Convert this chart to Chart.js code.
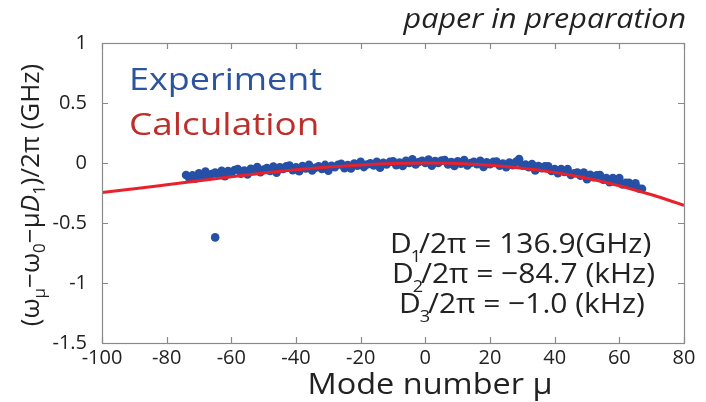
<!DOCTYPE html>
<html><head><meta charset="utf-8">
<script src="https://cdn.jsdelivr.net/npm/chart.js@4.4.1/dist/chart.umd.min.js"></script>
<style>html,body{margin:0;padding:0;background:#fff}#wrap{width:706px;height:402px}</style>
</head><body><div id="wrap"><canvas id="c" width="706" height="402"></canvas></div>
<script>
// ---- data ----
const expMu = [
 -74,-73,-72,-71,-70,-69,-68,-67,-66,-65,
 -64,-63,-62,-61,-60,-59,-58,-57,-56,-55,
 -54,-53,-52,-51,-50,-49,-48,-47,-46,-45,
 -44,-43,-42,-41,-40,-39,-38,-37,-36,-35,
 -34,-33,-32,-31,-30,-29,-28,-27,-26,-25,
 -24,-23,-22,-21,-20,-19,-18,-17,-16,-15,
 -14,-13,-12,-11,-10,-9,-8,-7,-6,-5,
 -4,-3,-2,-1,0,1,2,3,4,5,
 6,7,8,9,10,11,12,13,14,15,
 16,17,18,19,20,21,22,23,24,25,
 26,27,28,29,30,31,32,33,34,35,
 36,37,38,39,40,41,42,43,44,45,
 46,47,48,49,50,51,52,53,54,55,
 56,57,58,59,60,61,62,63,64,65,
 66,67,-65];
const expVal = [
 -0.100,-0.126,-0.102,-0.129,-0.085,-0.108,-0.071,-0.114,-0.092,-0.080,
 -0.097,-0.064,-0.111,-0.068,-0.085,-0.058,-0.051,-0.089,-0.062,-0.095,
 -0.048,-0.066,-0.034,-0.077,-0.055,-0.043,-0.066,-0.029,-0.080,-0.035,
 -0.049,-0.028,-0.022,-0.060,-0.035,-0.068,-0.025,-0.045,-0.015,-0.062,
 -0.039,-0.028,-0.050,-0.016,-0.065,-0.023,-0.036,-0.014,-0.007,-0.043,
 -0.018,-0.046,-0.004,-0.022,0.010,-0.034,-0.013,-0.002,-0.021,0.010,
 -0.039,0.002,-0.012,0.009,0.015,-0.018,0.004,-0.024,0.018,0.000,
 0.031,-0.013,0.008,0.019,0.000,0.029,-0.022,0.017,0.001,0.020,
 0.024,-0.012,0.007,-0.024,0.015,-0.005,0.025,-0.020,0.000,0.010,
 -0.011,0.018,-0.033,0.006,-0.010,0.009,0.013,-0.023,-0.004,-0.035,
 0.003,-0.019,0.009,0.032,-0.020,-0.013,-0.036,-0.009,-0.062,-0.025,
 -0.044,-0.028,-0.027,-0.066,-0.050,-0.085,-0.050,-0.075,-0.050,-0.100,
 -0.085,-0.080,-0.105,-0.080,-0.135,-0.099,-0.118,-0.102,-0.101,-0.140,
 -0.125,-0.160,-0.125,-0.150,-0.125,-0.178,-0.166,-0.164,-0.192,-0.170,
 -0.212,-0.215,-0.620];
const calcMu = [-100,-90,-80,-70,-60,-50,-40,-30,-20,-10,0,10,20,30,40,50,60,70,80];
const calcVal = [-0.245,-0.215,-0.182,-0.148,-0.115,-0.084,-0.057,-0.034,-0.016,-0.004,0,-0.004,-0.018,-0.043,-0.078,-0.127,-0.189,-0.265,-0.352];
const xTicks = [-100,-80,-60,-40,-20,0,20,40,60,80];
const yTicks = [-1.5,-1,-0.5,0,0.5,1];
const legendLabels = ['Experiment','Calculation'];
const xTitle = 'Mode number \u03bc';
const noteText = 'paper in preparation';
const paramLines = [['1','= 136.9(GHz)'],['2','= \u221284.7 (kHz)'],['3','= \u22121.0 (kHz)']];

const FONT = '"Open Sans", "Noto Sans", sans-serif';
const BLUE = '#2550a6', RED = '#e8212b';

function wideText(ctx, text, x, y, sx){
  ctx.save(); ctx.translate(x, y); ctx.scale(sx, 1); ctx.fillText(text, 0, 0); ctx.restore();
}

const framePlugin = {
  id:'frame',
  afterDraw(chart){
    const ctx = chart.ctx, a = chart.chartArea, xs = chart.scales.x, ys = chart.scales.y;
    ctx.save();
    ctx.strokeStyle = '#8a8a8a'; ctx.lineWidth = 1.2;
    ctx.strokeRect(a.left+0.5, a.top+0.5, a.right-a.left, a.bottom-a.top);
    const L = 6;
    ctx.beginPath();
    xTicks.forEach(v=>{const p=Math.round(xs.getPixelForValue(v))+0.5;
      ctx.moveTo(p,a.bottom); ctx.lineTo(p,a.bottom-L);
      ctx.moveTo(p,a.top); ctx.lineTo(p,a.top+L);});
    yTicks.forEach(v=>{const p=Math.round(ys.getPixelForValue(v))+0.5;
      ctx.moveTo(a.left,p); ctx.lineTo(a.left+L,p);
      ctx.moveTo(a.right,p); ctx.lineTo(a.right-L,p);});
    ctx.stroke();

    // y axis title with subscripts
    const parts = [
      ['(\u03c9',0,''],['\u03bc',1,''],['\u2212\u03c9',0,''],['0',1,''],['\u2212\u03bc',0,''],['D',0,'italic '],['1',1,''],[')/2\u03c0 (GHz)',0,'']
    ];
    const big = 26, small = 17;
    let total = 0;
    parts.forEach(p=>{ctx.font = p[2]+(p[1]?small:big)+'px '+FONT; p.w = ctx.measureText(p[0]).width; total += p.w;});
    ctx.translate(32, 195);
    ctx.rotate(-Math.PI/2);
    ctx.fillStyle = '#222'; ctx.textBaseline = 'middle'; ctx.textAlign='left';
    let x = -total/2;
    parts.forEach(p=>{ctx.font = p[2]+(p[1]?small:big)+'px '+FONT; ctx.fillText(p[0], x, p[1]?8:0); x += p.w;});
    ctx.restore();

    ctx.save();
    ctx.textBaseline='alphabetic'; ctx.textAlign='left';
    // x title
    ctx.fillStyle = '#222';
    ctx.font = '29px '+FONT;
    const tw = ctx.measureText(xTitle).width*1.12;
    wideText(ctx, xTitle, 430 - tw/2, 394, 1.12);

    // legend text
    ctx.font = '31px '+FONT;
    ctx.fillStyle = '#2b539e'; wideText(ctx, legendLabels[0], 129, 90, 1.16);
    ctx.fillStyle = '#bd2f2a'; wideText(ctx, legendLabels[1], 129, 135, 1.19);

    // parameter annotations
    ctx.fillStyle = '#222';
    const px = [390, 392, 399], py = [253, 283, 313], sx = 1.07;
    paramLines.forEach((l,i)=>{
      ctx.save(); ctx.translate(px[i], py[i]); ctx.scale(sx,1);
      let x = 0;
      ctx.font = '28px '+FONT; ctx.fillText('D', x, 0); x += ctx.measureText('D').width;
      ctx.font = '17px '+FONT; ctx.fillText(l[0], x-1, 9); x += ctx.measureText(l[0]).width-3;
      ctx.font = '28px '+FONT; ctx.fillText('/2\u03c0 '+l[1], x, 0);
      ctx.restore();
    });
    // top note
    ctx.font = 'italic 27px '+FONT;
    const nw = ctx.measureText(noteText).width*1.13;
    wideText(ctx, noteText, 686 - nw, 28, 1.13);
    ctx.restore();
  }
};

new Chart(document.getElementById('c'), {
  type:'scatter',
  data:{datasets:[
    {label:legendLabels[1], data:calcMu.map((m,i)=>({x:m,y:calcVal[i]})), showLine:true, borderColor:RED, borderWidth:3, pointRadius:0, cubicInterpolationMode:'monotone', order:0},
    {label:legendLabels[0], data:expMu.map((m,i)=>({x:m,y:expVal[i]})), backgroundColor:BLUE, borderColor:BLUE, pointRadius:4.3, borderWidth:0, order:1}
  ]},
  options:{
    responsive:false, animation:false, devicePixelRatio:1,
    layout:{padding:{top:43,right:22,left:0,bottom:0}},
    plugins:{legend:{display:false}, tooltip:{enabled:false}},
    scales:{
      x:{type:'linear', min:-100, max:80,
        afterBuildTicks(s){s.ticks = xTicks.map(v=>({value:v}));},
        afterFit(s){s.height = 59;},
        grid:{display:false, drawTicks:false}, border:{display:false},
        ticks:{font:{family:FONT,size:20}, color:'#222', padding:3, maxRotation:0, callback:v=>String(v)},
        title:{display:false}
      },
      y:{type:'linear', min:-1.5, max:1,
        afterBuildTicks(s){s.ticks = yTicks.map(v=>({value:v}));},
        afterFit(s){s.width = 102;},
        grid:{display:false, drawTicks:false}, border:{display:false},
        ticks:{font:{family:FONT,size:20}, color:'#222', padding:15, callback:v=>String(v)}
      }
    }
  },
  plugins:[framePlugin]
});
</script></body></html>
